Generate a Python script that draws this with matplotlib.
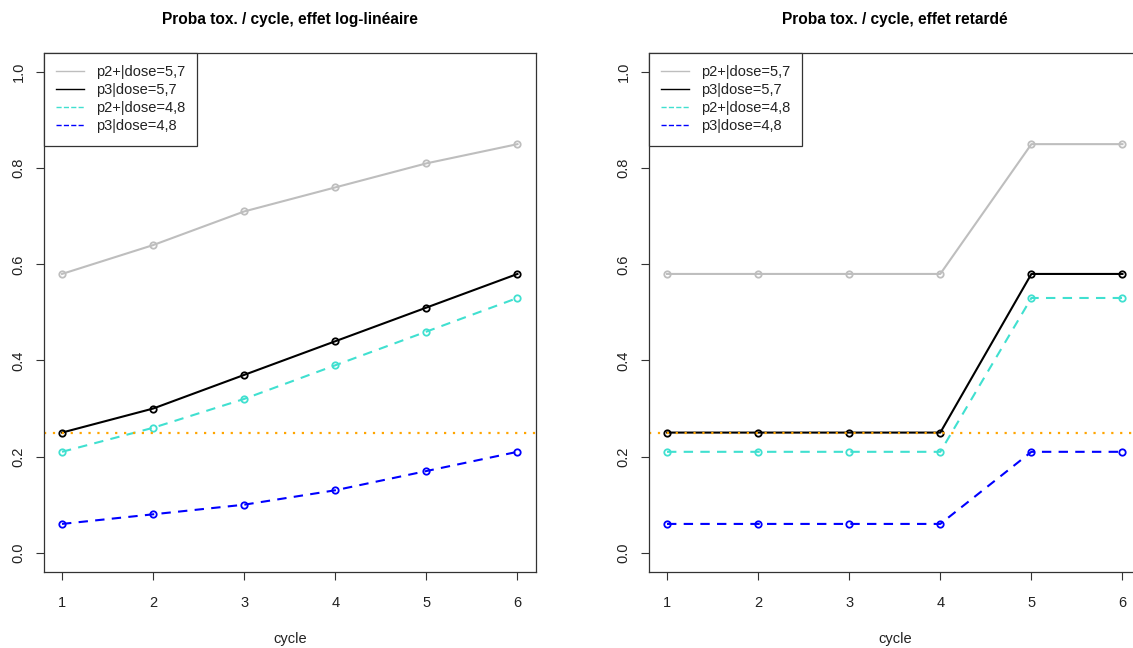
import matplotlib
matplotlib.use("Agg")
import matplotlib.pyplot as plt
from matplotlib.lines import Line2D

plt.rcParams['font.family'] = ['Liberation Sans', 'DejaVu Sans']

# donnees
cycles = [1, 2, 3, 4, 5, 6]

# effet log-lineaire
loglin_p2_57 = [0.58, 0.64, 0.71, 0.76, 0.81, 0.85]
loglin_p3_57 = [0.25, 0.30, 0.37, 0.44, 0.51, 0.58]
loglin_p2_48 = [0.21, 0.26, 0.32, 0.39, 0.46, 0.53]
loglin_p3_48 = [0.06, 0.08, 0.10, 0.13, 0.17, 0.21]

# effet retarde
retard_p2_57 = [0.58, 0.58, 0.58, 0.58, 0.85, 0.85]
retard_p3_57 = [0.25, 0.25, 0.25, 0.25, 0.58, 0.58]
retard_p2_48 = [0.21, 0.21, 0.21, 0.21, 0.53, 0.53]
retard_p3_48 = [0.06, 0.06, 0.06, 0.06, 0.21, 0.21]

seuil = 0.25
labels = ["p2+|dose=5,7", "p3|dose=5,7", "p2+|dose=4,8", "p3|dose=4,8"]
colors = ["#BEBEBE", "#000000", "#40E0D0", "#0000FF"]
dashed = [False, False, True, True]
titles = ["Proba tox. / cycle, effet log-linéaire", "Proba tox. / cycle, effet retardé"]
yticks = [0.0, 0.2, 0.4, 0.6, 0.8, 1.0]

W, H = 1133, 648
fig = plt.figure(figsize=(W / 100, H / 100), dpi=100)

# axes places en pixels (le panneau de droite deborde de l'image)
pos = [(43.8, 52.8, 491.9, 519.2), (648.8, 52.8, 491.9, 519.2)]
panels = [
    [loglin_p2_57, loglin_p3_57, loglin_p2_48, loglin_p3_48],
    [retard_p2_57, retard_p3_57, retard_p2_48, retard_p3_48],
]

for (px, py, pw, ph), series, title in zip(pos, panels, titles):
    ax = fig.add_axes([px / W, (H - py - ph) / H, pw / W, ph / H])
    for vals, col, dsh in zip(series, colors, dashed):
        line, = ax.plot(cycles, vals, color=col, lw=1.5, marker='o', ms=4.6,
                        mfc='none', mec=col, mew=1.3)
        if dsh:
            line.set_dashes((4.5, 3.5))
    ax.axhline(seuil, color='#FFA500', lw=1.6, ls=(0, (1, 3)))

    ax.set_xlim(0.8, 6.2)
    ax.set_ylim(-0.04, 1.04)
    ax.set_xticks(cycles)
    ax.set_yticks(yticks)
    ax.set_yticklabels([f"{v:.1f}" for v in yticks], rotation=90, va='center')
    ax.tick_params(direction='out', length=6, width=0.8, labelsize=10.5,
                   colors='#333333', labelcolor='#222222')
    ax.tick_params(axis='x', pad=11)
    ax.tick_params(axis='y', pad=7)
    for s in ax.spines.values():
        s.set_linewidth(0.9)
        s.set_color('#333333')
    ax.set_xlabel("cycle", fontsize=10.5, labelpad=16, color='#222222')
    ax.set_title(title, fontsize=11.2, fontweight='bold', pad=21)

    handles = [Line2D([], [], color=c, lw=1, ls='--' if d else '-')
               for c, d in zip(colors, dashed)]
    leg = ax.legend(handles, labels, loc='upper left', bbox_to_anchor=(0, 1),
                    fontsize=10.5, frameon=True, fancybox=False, framealpha=1,
                    borderaxespad=0, handlelength=1.9, handletextpad=0.8,
                    labelspacing=0.28, borderpad=0.85)
    leg.get_frame().set_edgecolor('#333333')
    leg.get_frame().set_linewidth(0.9)
    for t in leg.get_texts():
        t.set_color('#222222')

fig.savefig("out.png", dpi=100)
